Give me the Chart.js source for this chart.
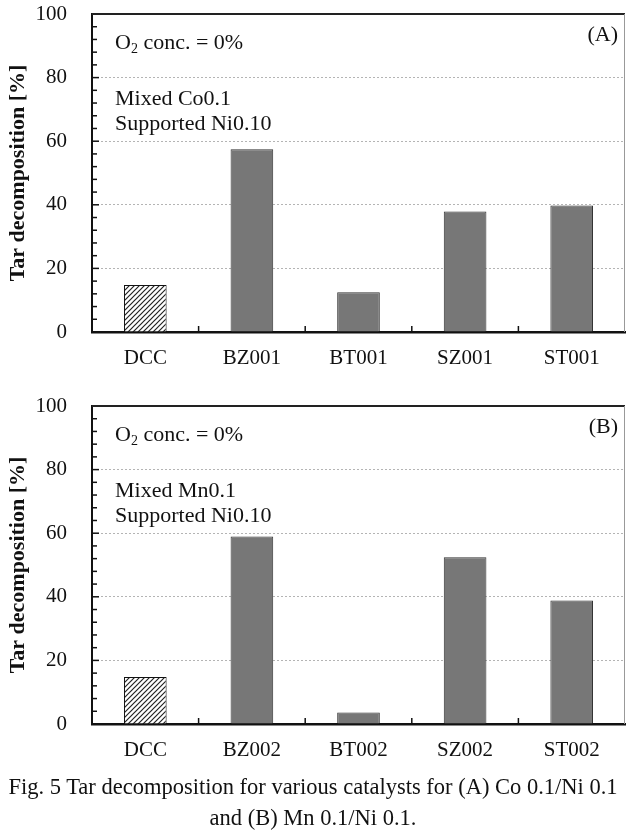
<!DOCTYPE html>
<html>
<head>
<meta charset="utf-8">
<script src="https://cdn.jsdelivr.net/npm/chart.js@4"></script>
<style>
  body { margin: 0; background: #fff; width: 626px; height: 838px; position: relative; overflow: hidden; }
  .box { position: absolute; left: 0; width: 626px; height: 390px; }
  #caption { position: absolute; left: 0; top: 771px; width: 626px; text-align: center;
             font-family: "Liberation Serif", serif; font-size: 22.5px; line-height: 31px; color: #111; }
</style>
</head>
<body>
<div class="box" style="top:0"><canvas id="chartA"></canvas></div>
<div class="box" style="top:392px"><canvas id="chartB"></canvas></div>
<div id="caption">Fig. 5 Tar decomposition for various catalysts for (A) Co 0.1/Ni 0.1<br>and (B) Mn 0.1/Ni 0.1.</div>
<script>
const catsA = ["DCC", "BZ001", "BT001", "SZ001", "ST001"];
const valsA = [14.8, 57.5, 12.5, 37.9, 39.8];
const catsB = ["DCC", "BZ002", "BT002", "SZ002", "ST002"];
const valsB = [14.8, 59, 3.6, 52.4, 38.8];
const yTicks = [0, 20, 40, 60, 80, 100];
const notesA = ["Mixed Co0.1", "Supported Ni0.10"];
const notesB = ["Mixed Mn0.1", "Supported Ni0.10"];

const serif = "'Liberation Serif', 'Times New Roman', serif";

function hatch() {
  const c = document.createElement("canvas");
  c.width = 5; c.height = 5;
  const g = c.getContext("2d");
  g.fillStyle = "#fff";
  g.fillRect(0, 0, 5, 5);
  g.strokeStyle = "#222";
  g.lineWidth = 1.2;
  g.beginPath();
  g.moveTo(-1, 6); g.lineTo(6, -1);
  g.moveTo(-1, 1); g.lineTo(1, -1);
  g.moveTo(4, 6); g.lineTo(6, 4);
  g.stroke();
  return g.createPattern(c, "repeat");
}

// frame, inward ticks and text notes
const decor = {
  id: "decor",
  afterDraw(chart, args, opts) {
    const ctx = chart.ctx, a = chart.chartArea;
    const xs = chart.scales.x, ys = chart.scales.y;
    ctx.save();
    // top + right border
    ctx.strokeStyle = "#222"; ctx.lineWidth = 2;
    ctx.beginPath(); ctx.moveTo(a.left, a.top); ctx.lineTo(a.right, a.top); ctx.stroke();
    ctx.strokeStyle = "#999"; ctx.lineWidth = 1;
    ctx.beginPath(); ctx.moveTo(a.right - 0.5, a.top); ctx.lineTo(a.right - 0.5, a.bottom); ctx.stroke();
    // y ticks
    ctx.strokeStyle = "#111"; ctx.lineWidth = 1.5;
    for (let v = 4; v < 100; v += 4) {
      const y = ys.getPixelForValue(v);
      const len = v % 20 === 0 ? 7 : 5;
      ctx.beginPath(); ctx.moveTo(a.left, y); ctx.lineTo(a.left + len, y); ctx.stroke();
    }
    // x ticks between categories
    for (let i = 0; i < xs.ticks.length - 1; i++) {
      const x = (xs.getPixelForValue(i) + xs.getPixelForValue(i + 1)) / 2;
      ctx.beginPath(); ctx.moveTo(x, a.bottom); ctx.lineTo(x, a.bottom - 6); ctx.stroke();
    }
    // notes
    ctx.fillStyle = "#111";
    ctx.textBaseline = "middle";
    ctx.font = "22px " + serif;
    const x0 = a.left + 23;
    ctx.textAlign = "left";
    ctx.fillText("O", x0, a.top + 29);
    let w = ctx.measureText("O").width;
    ctx.font = "14px " + serif;
    ctx.fillText("2", x0 + w, a.top + 35);
    w += ctx.measureText("2").width;
    ctx.font = "22px " + serif;
    ctx.fillText(" conc. = 0%", x0 + w, a.top + 29);
    opts.notes.forEach((t, i) => ctx.fillText(t, x0, a.top + 85 + i * 25));
    ctx.textAlign = "right";
    ctx.fillText(opts.tag, a.right - 7, a.top + 21);
    ctx.restore();
  }
};

function makeChart(id, cats, vals, notes, tag) {
  const colors = cats.map((c, i) => i === 0 ? hatch() : "#777777");
  return new Chart(document.getElementById(id), {
    type: "bar",
    data: {
      labels: cats,
      datasets: [{
        data: vals,
        backgroundColor: colors,
        borderColor: cats.map((c, i) => i === 0 ? "#111" : "#333"),
        borderWidth: 1,
        barPercentage: 0.4,
        categoryPercentage: 1
      }]
    },
    options: {
      responsive: true,
      maintainAspectRatio: false,
      animation: false,
      layout: { padding: { top: 14, right: 1, bottom: 0, left: 0 } },
      plugins: {
        legend: { display: false },
        tooltip: { enabled: false },
        decor: { notes: notes, tag: tag }
      },
      scales: {
        x: {
          grid: { display: false, drawTicks: false },
          border: { color: "#111", width: 2.5 },
          ticks: { color: "#111", font: { family: serif, size: 21 }, padding: 14, maxRotation: 0 },
          afterFit(s) { s.height = 58; s.paddingLeft = 0; s.paddingRight = 0; }
        },
        y: {
          min: 0, max: 100,
          afterBuildTicks(s) { s.ticks = yTicks.map(v => ({ value: v })); },
          grid: {
            drawTicks: false,
            color: c => (c.tick && (c.tick.value === 0 || c.tick.value === 100)) ? "rgba(0,0,0,0)" : "#b4b4b4",
            lineWidth: 1
          },
          border: { color: "#111", width: 2, dash: [2, 2] },
          ticks: { color: "#111", font: { family: serif, size: 21 }, padding: 25 },
          title: { display: true, text: "Tar decomposition [%]", color: "#111",
                   font: { family: serif, size: 22, weight: "bold" }, padding: { top: 5, bottom: 0 } },
          afterFit(s) { s.width = 92; s.paddingTop = 0; s.paddingBottom = 0; }
        }
      }
    },
    plugins: [decor]
  });
}

makeChart("chartA", catsA, valsA, notesA, "(A)");
makeChart("chartB", catsB, valsB, notesB, "(B)");
</script>
</body>
</html>
